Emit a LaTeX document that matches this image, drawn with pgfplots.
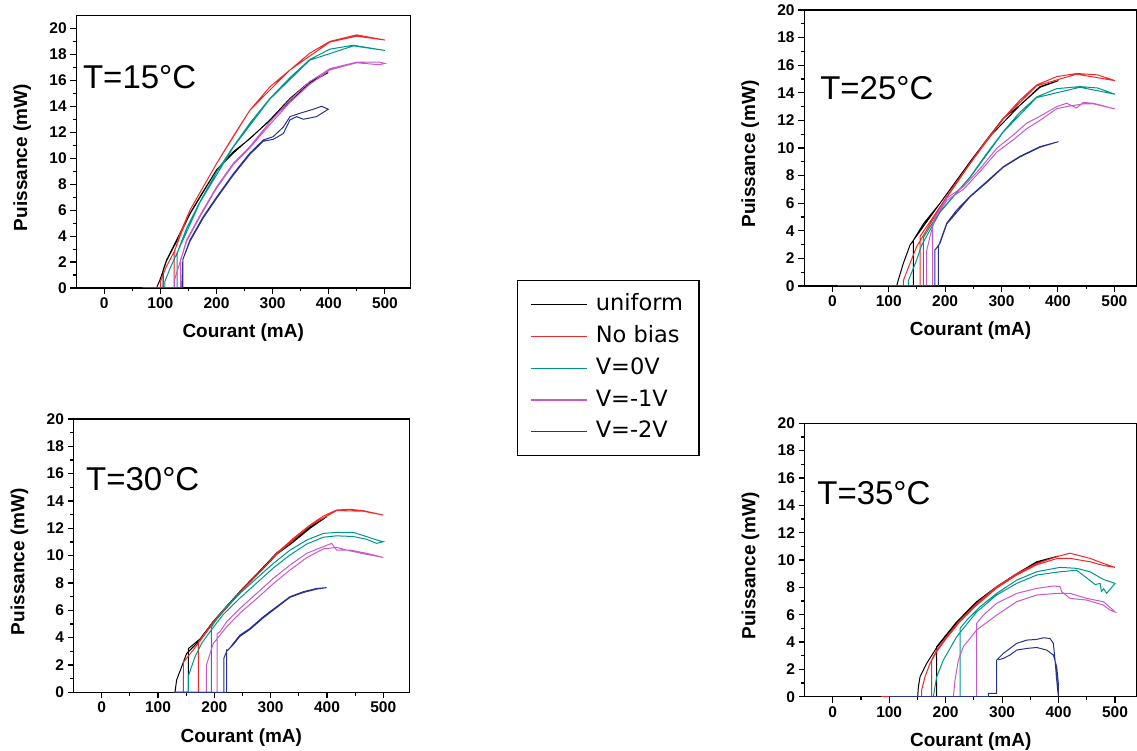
\documentclass[border=0pt]{standalone}
\usepackage{fontspec}
\setmainfont{Liberation Sans}
\newfontfamily\legendfont{DejaVu Sans}
\usepackage{pgfplots}
\pgfplotsset{compat=1.18}
\definecolor{cred}{RGB}{240,40,40}
\definecolor{cteal}{RGB}{0,150,135}
\definecolor{cpink}{RGB}{200,90,200}
\definecolor{cnavy}{RGB}{40,50,140}
\pgfplotsset{panel/.style={
  scale only axis, xmin=-50, ymin=0,
  xtick={0,100,...,500}, ytick={0,2,...,20},
  minor x tick num=1, minor y tick num=1,
  tick align=outside, xtick pos=bottom, ytick pos=left,
  major tick length=6pt, minor tick length=3.5pt,
  axis line style={line width=1.2pt},
  every tick/.style={line width=1.1pt, black},
  ticklabel style={font=\bfseries\fontsize{15.5}{17}\selectfont},
  /pgf/number format/assume math mode=true,
  xlabel={Courant (mA)}, ylabel={Puissance (mW)},
  label style={font=\bfseries\fontsize{19}{22}\selectfont},
  x label style={at={(axis description cs:0.5,0)}, anchor=center, yshift=-45pt},
  y label style={at={(axis description cs:0,0.5)}, anchor=center, rotate=0, yshift=54pt, xshift=-6pt},
  every axis plot/.append style={line width=1pt},
}}
\begin{document}
\begin{tikzpicture}
\useasboundingbox (0,0) rectangle (1137pt,751pt);
% ---------------- T=15C ----------------
\begin{axis}[panel, at={(76.2pt,463pt)}, anchor=south west, width=334pt, height=272.6pt, xmax=545, ymax=21,
  legend style={at={(1.3198,0.0293)}, anchor=north west, draw=black, line width=1.2pt, fill=white,
    font=\legendfont\fontsize{22.5}{26}\selectfont, inner xsep=13pt, inner ysep=11pt, row sep=5.8pt, column sep=5pt,
    nodes={inner sep=3pt, text height=16pt, text depth=4pt}},
  legend cell align=left,
  legend image code/.code={\draw[#1, line width=1.2pt] (0pt,0pt) -- (56pt,0pt);}]
\addplot[black] coordinates {(75,0) (105,0) (105,1.4) (111,2.16) (128.9,3.7) (152.7,5.75) (170.5,7.04) (200.2,9.1) (229.9,10.5) (259.5,11.5) (295.2,12.95) (330.8,14.6) (366.4,15.9) (399,16.6) (366,15.8) (295,12.9) (230,10.4) (200,9.1) (152.7,5.7) (128.9,3.6) (111,2.1) (99,0.6) (94,0.1) (94,0)};
\addlegendentry{uniform}
\addplot[cred] coordinates {(70,0) (124.6,0) (124.6,2.7) (134.8,4.2) (152.7,6.0) (176.4,7.8) (200.2,9.6) (229.9,11.7) (259.5,13.7) (295.2,15.5) (330.8,16.8) (366.4,18.1) (402,19.0) (449.6,19.5) (500,19.1) (449.6,19.4) (402,18.95) (330.8,16.8) (259.5,13.7) (200.2,9.6) (152.7,6.0) (124.6,2.8) (110,1.6) (100,0.5) (100,0)};
\addlegendentry{No bias}
\addplot[cteal] coordinates {(70,0) (130,0) (130,2.6) (131.9,2.93) (146.7,4.6) (170.5,6.65) (200.2,8.96) (229.9,10.9) (259.5,12.7) (295,14.6) (330.8,16.2) (366,17.6) (402,18.4) (443.6,18.7) (500,18.3) (443.6,18.65) (366,17.55) (295,14.55) (229.9,10.85) (170.5,6.6) (131.9,2.9) (118,1.6) (108,0.5) (108,0)};
\addlegendentry{V=0V}
\addplot[cpink] coordinates {(67,0) (136,0) (136,2.2) (137.8,2.4) (146.7,3.7) (170.5,5.6) (200.2,7.8) (229.9,9.6) (259.5,10.9) (295.2,12.8) (330.8,14.5) (366.4,15.9) (402,16.9) (449.6,17.4) (490,17.4) (500,17.3) (490,17.2) (449.6,17.35) (402,16.8) (366.4,15.7) (330.8,14.3) (295.2,12.6) (259.5,10.8) (229.9,9.5) (200.2,7.7) (170.5,5.5) (146.7,3.6) (135,2.0) (125,0.6) (125,0)};
\addlegendentry{V=-1V}
\addplot[cnavy] coordinates {(67,0) (140,0) (140,2.2) (152.7,3.7) (176.4,5.5) (200,7.0) (229.9,8.8) (259.5,10.4) (283.3,11.4) (301,11.66) (319,12.4) (330.8,13.2) (348.6,13.46) (372.4,13.77) (387.2,14.0) (399,13.77) (378,13.2) (354.6,13.0) (342.7,13.2) (330.8,12.95) (319,11.9) (301,11.45) (283,11.3) (259.5,10.3) (229.9,8.7) (200,6.9) (176.4,5.4) (152.7,3.6) (140,2.2) (138,0)};
\addlegendentry{V=-2V}
\node[anchor=west, inner sep=0pt, font=\fontsize{33}{37}\selectfont] at (axis description cs:0.020,0.774) {T=15°C};
\end{axis}
% ---------------- T=25C ----------------
\begin{axis}[panel, at={(804.1pt,465pt)}, anchor=south west, width=332.8pt, height=276pt, xmax=540, ymax=20]
\addplot[black] coordinates {(10,0) (143.5,0) (143.5,3.3) (161.4,4.5) (191,6.0) (244.2,9.0) (273.7,10.6) (303,12.15) (332.8,13.1) (368.3,14.45) (400.8,14.88) (368.3,14.4) (332.8,13.1) (273.7,10.6) (191,6.0) (137.8,2.97) (126,1.65) (117,0.44) (114,0)};
\addplot[cred] coordinates {(10,0) (155.5,0) (155.5,3.6) (167.3,4.3) (191,5.75) (214.6,7.2) (244.2,8.9) (273.7,10.6) (303.3,12.15) (332.8,13.48) (362.4,14.57) (397.9,15.17) (433.3,15.4) (470,15.3) (501,14.88) (433,15.35) (362,14.5) (303,12.1) (244,8.85) (191,5.7) (149.6,2.85) (137.8,1.65) (126,0.4) (126,0)};
\addplot[cteal] coordinates {(10,0) (161.4,0) (161.4,3.5) (173.3,4.3) (191,5.4) (214.6,6.5) (244.2,7.9) (273.7,9.6) (303.3,11.2) (332.8,12.6) (362.4,13.7) (397.9,14.3) (439,14.45) (470,14.35) (501,13.9) (439,14.4) (362,13.65) (303,11.15) (244,7.85) (191,5.35) (158.5,2.97) (149.6,1.9) (135,0.4) (135,0)};
\addplot[cpink] coordinates {(10,0) (178,0) (178,4.3) (182.1,5.0) (202.8,6.36) (232.4,7.2) (262,8.5) (291.5,9.98) (321,10.95) (344.6,11.8) (368,12.3) (397.9,13.0) (415.6,13.24) (433,12.9) (445,13.3) (463,13.24) (501,12.83) (463,13.2) (445,13.2) (415.6,13.0) (397.9,12.85) (368,12.0) (344.6,11.4) (321,10.6) (291.5,9.7) (262,8.3) (232.4,7.0) (202.8,6.2) (182,4.9) (173.3,3.6) (167,2.5) (167,0)};
\addplot[cnavy] coordinates {(10,0) (188,0) (188,2.85) (191,3.2) (202.8,4.55) (220.5,5.5) (244.2,6.5) (273.7,7.57) (303.3,8.65) (332.8,9.4) (368.3,10.1) (400.8,10.46) (368,10.05) (332.8,9.35) (303,8.6) (273.7,7.5) (244,6.45) (203,4.5) (191,3.1) (182,2.6) (182,0)};
\node[anchor=west, inner sep=0pt, font=\fontsize{33}{37}\selectfont] at (axis description cs:0.048,0.717) {T=25°C};
\end{axis}
% ---------------- T=30C ----------------
\begin{axis}[panel, at={(73.5pt,58.7pt)}, anchor=south west, width=335.7pt, height=273.3pt, xmax=546, ymax=20]
\addplot[black] coordinates {(128,0) (154,0) (154,3.2) (174.6,3.9) (198.3,5.2) (221.9,6.3) (251.5,7.65) (281.1,8.9) (310.7,10.2) (340.3,11.14) (369.9,12.1) (399.5,12.85) (369.9,12.0) (340.3,11.0) (310.7,10.1) (281.1,8.8) (251.5,7.6) (221.9,6.2) (198.3,5.1) (174.6,3.8) (150.9,2.85) (142,1.87) (133.1,0.9) (130.2,0)};
\addplot[cred] coordinates {(128,0) (171.6,0) (171.6,3.7) (174.6,3.83) (198.3,5.17) (221.9,6.27) (251.5,7.61) (281.1,8.83) (310.7,10.17) (340.3,11.27) (369.9,12.24) (393.6,12.9) (417.2,13.34) (440.9,13.39) (464.6,13.29) (500,12.97) (464.6,13.25) (417.2,13.3) (369.9,12.2) (310.7,10.1) (251.5,7.55) (198.3,5.1) (162.7,3.1) (145,2.2) (145,0)};
\addplot[cteal] coordinates {(128,0) (195,0) (195,4.8) (216,6.02) (245.6,7.24) (275.2,8.34) (304.8,9.43) (334.4,10.4) (364,11.14) (393.6,11.63) (417.2,11.7) (446.8,11.7) (470,11.4) (488.3,11.15) (500,11.02) (488,10.9) (470,11.2) (446.8,11.4) (417.2,11.45) (393.6,11.35) (364,10.85) (334.4,10.05) (304.8,9.1) (275.2,8.0) (245.6,6.9) (216,5.7) (195.3,4.6) (177.5,3.58) (165.7,2.6) (154,1.2) (154,0)};
\addplot[cpink] coordinates {(128,0) (205,0) (205,4.3) (210,4.43) (222,5.17) (245.6,6.14) (275.2,7.24) (304.8,8.34) (334.4,9.31) (364,10.17) (393.6,10.66) (408.4,10.9) (417.2,10.4) (440.9,10.41) (470.5,10.17) (500,9.87) (470,10.1) (440.9,10.35) (417.2,10.6) (393.6,10.5) (364,9.85) (334.4,8.95) (304.8,7.95) (275.2,6.85) (245.6,5.8) (222,4.8) (198.3,3.58) (186,2.0) (186,0)};
\addplot[cnavy] coordinates {(128,0) (222,0) (222,3.1) (224.9,3.1) (233.8,3.58) (245.6,4.19) (263.4,4.68) (287,5.53) (310.7,6.27) (334.4,7.0) (358,7.36) (381.7,7.6) (399.5,7.66) (381.7,7.55) (358,7.3) (334.4,6.95) (310.7,6.2) (287,5.45) (263.4,4.6) (245.6,4.1) (233.8,3.5) (222,3.0) (217,2.5) (217,0)};
\node[anchor=west, inner sep=0pt, font=\fontsize{33}{37}\selectfont] at (axis description cs:0.037,0.780) {T=30°C};
\end{axis}
% ---------------- T=35C ----------------
\begin{axis}[panel, at={(804.5pt,54.3pt)}, anchor=south west, width=332.5pt, height=273.4pt, xmax=539, ymax=20]
\addplot[black] coordinates {(100,0) (184.2,0) (184.2,3.66) (219.6,5.48) (255,6.95) (290.4,8.05) (325.9,9.0) (361.3,9.87) (399.7,10.29) (361.3,9.8) (325.9,8.95) (290.4,8.0) (255,6.9) (219.6,5.4) (184.2,3.6) (166.5,2.44) (154.7,1.46) (151.7,0.73) (150.5,0)};
\addplot[cred] coordinates {(86,0) (175.3,0) (175.3,2.7) (184.2,3.41) (201.9,4.39) (225.5,5.6) (255,6.83) (290.4,8.05) (325.9,9.0) (361.3,9.75) (396.7,10.24) (420.3,10.5) (455.7,10.12) (479.4,9.75) (500,9.46) (479.4,9.6) (455.7,9.87) (420.3,10.12) (396.7,10.1) (361.3,9.65) (325.9,8.9) (290.4,7.95) (255,6.7) (225.5,5.5) (201.9,4.3) (184.2,3.3) (172.4,2.44) (163.5,1.46) (157.6,0.5) (157.6,0)};
\addplot[cteal] coordinates {(100,0) (225.5,0) (225.5,5.0) (237.3,5.6) (260.9,6.58) (290.4,7.56) (325.9,8.53) (361.3,9.14) (402.6,9.46) (432.1,9.39) (455.7,9.14) (479.4,8.58) (500,8.29) (485.3,7.56) (480,7.9) (476,7.7) (473.5,8.29) (465,8.2) (455.7,8.5) (440,9.0) (432,9.25) (402.6,9.14) (361.3,8.9) (325.9,8.29) (290.4,7.44) (255,6.2) (219.6,4.39) (196,2.68) (184.2,1.46) (181.2,0.73) (178.3,0)};
\addplot[cpink] coordinates {(100,0) (255,0) (255,5.36) (266.8,5.97) (290.4,6.83) (325.9,7.56) (361.3,7.92) (390.8,8.1) (402.6,8.05) (405.6,7.68) (420.3,7.19) (449.8,7.07) (479.4,6.7) (491.2,6.34) (500,6.2) (495,6.4) (479.4,6.95) (449.8,7.19) (420.3,7.56) (396.7,7.56) (361.3,7.44) (325.9,6.95) (290.4,5.97) (255,4.88) (231.4,3.66) (222.6,2.68) (216.6,1.22) (213.7,0)};
\addplot[cnavy] coordinates {(100,0) (275.7,0) (275.7,0.24) (290.4,0.24) (290.4,2.68) (293.4,2.8) (302.3,3.17) (314,3.53) (325.9,3.9) (343.6,4.14) (361.3,4.19) (373.1,4.31) (384.9,4.26) (390.8,3.9) (393.8,2.68) (396.7,1.22) (399.7,0) (399.7,0.97) (396.7,2.2) (390.8,3.05) (379,3.41) (361.3,3.6) (343.6,3.53) (325.9,3.41) (314,3.05) (302.3,2.8) (293.4,2.7)};
\node[anchor=west, inner sep=0pt, font=\fontsize{33}{37}\selectfont] at (axis description cs:0.038,0.745) {T=35°C};
\end{axis}
\end{tikzpicture}
\end{document}
